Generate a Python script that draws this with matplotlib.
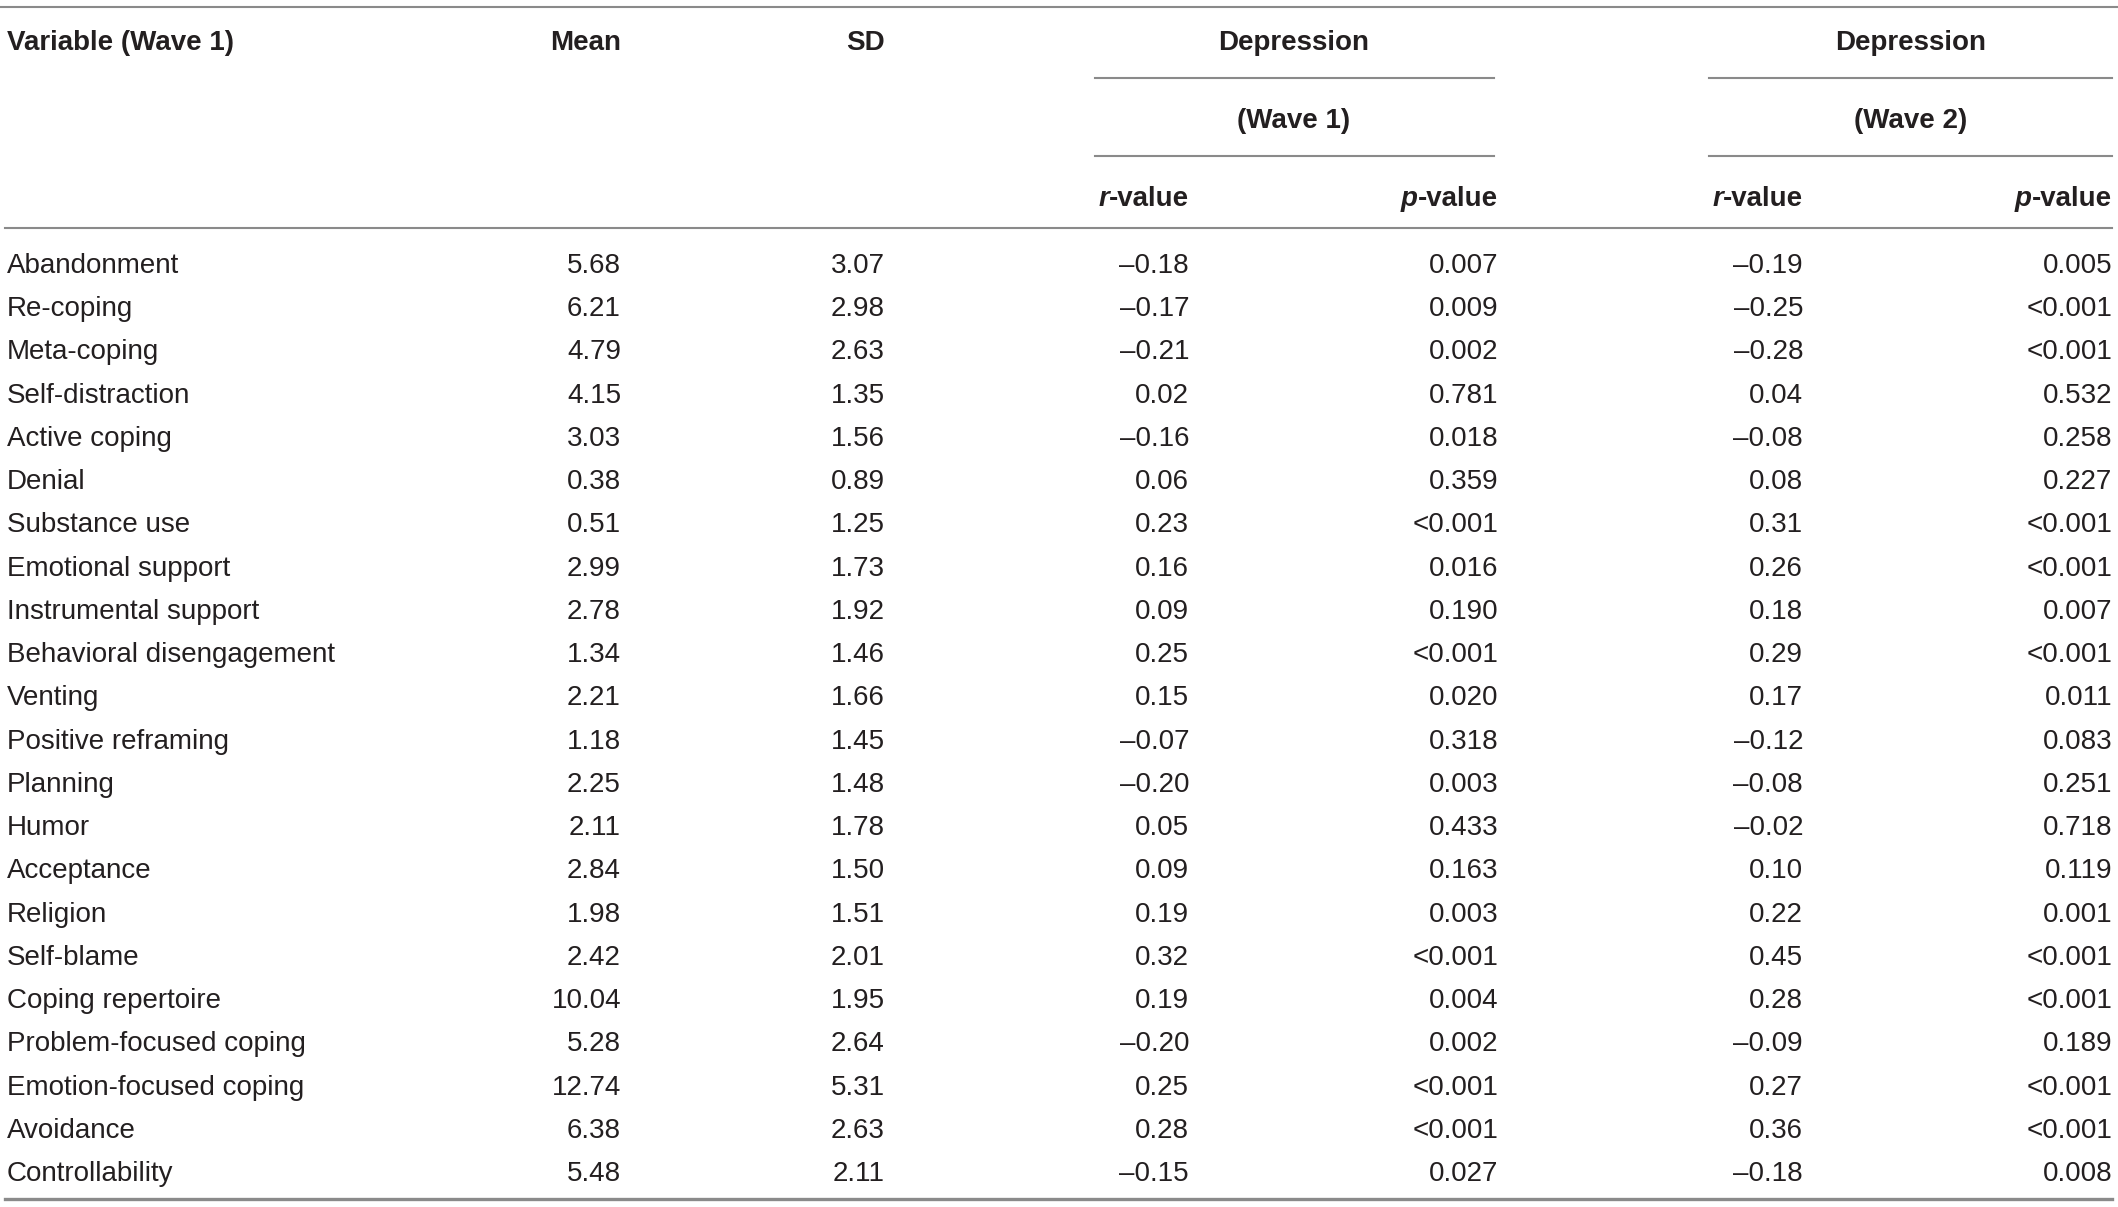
import matplotlib
matplotlib.use("Agg")
import matplotlib.pyplot as plt

variables = ["Abandonment", "Re-coping", "Meta-coping", "Self-distraction", "Active coping",
             "Denial", "Substance use", "Emotional support", "Instrumental support",
             "Behavioral disengagement", "Venting", "Positive reframing", "Planning", "Humor",
             "Acceptance", "Religion", "Self-blame", "Coping repertoire", "Problem-focused coping",
             "Emotion-focused coping", "Avoidance", "Controllability"]
means = [5.68, 6.21, 4.79, 4.15, 3.03, 0.38, 0.51, 2.99, 2.78, 1.34, 2.21, 1.18, 2.25, 2.11,
         2.84, 1.98, 2.42, 10.04, 5.28, 12.74, 6.38, 5.48]
sds = [3.07, 2.98, 2.63, 1.35, 1.56, 0.89, 1.25, 1.73, 1.92, 1.46, 1.66, 1.45, 1.48, 1.78,
       1.50, 1.51, 2.01, 1.95, 2.64, 5.31, 2.63, 2.11]
r_wave1 = [-0.18, -0.17, -0.21, 0.02, -0.16, 0.06, 0.23, 0.16, 0.09, 0.25, 0.15, -0.07, -0.20,
           0.05, 0.09, 0.19, 0.32, 0.19, -0.20, 0.25, 0.28, -0.15]
p_wave1 = ["0.007", "0.009", "0.002", "0.781", "0.018", "0.359", "<0.001", "0.016", "0.190",
           "<0.001", "0.020", "0.318", "0.003", "0.433", "0.163", "0.003", "<0.001", "0.004",
           "0.002", "<0.001", "<0.001", "0.027"]
r_wave2 = [-0.19, -0.25, -0.28, 0.04, -0.08, 0.08, 0.31, 0.26, 0.18, 0.29, 0.17, -0.12, -0.08,
           -0.02, 0.10, 0.22, 0.45, 0.28, -0.09, 0.27, 0.36, -0.18]
p_wave2 = ["0.005", "<0.001", "<0.001", "0.532", "0.258", "0.227", "<0.001", "<0.001", "0.007",
           "<0.001", "0.011", "0.083", "0.251", "0.718", "0.119", "0.001", "<0.001", "<0.001",
           "0.189", "<0.001", "<0.001", "0.008"]

W, H = 2118, 1207
FONT = "Liberation Sans"
INK = "#231f20"
RULE = "#8a8a8a"
FS = 20

fig = plt.figure(figsize=(W / 100, H / 100), dpi=100)
ax = fig.add_axes([0, 0, 1, 1])
ax.set_xlim(0, W)
ax.set_ylim(H, 0)
ax.axis("off")

# column anchors (right edges for numbers)
x_var = 7
x_mean, x_sd = 621, 885
x_r1, x_p1, x_r2, x_p2 = 1189, 1498, 1803, 2112


def fmt_r(v):
    s = f"{abs(v):.2f}"
    return ("\u2013" + s) if v < 0 else s


# rules
ax.plot([0, W], [7, 7], color=RULE, lw=1.5)
ax.plot([5, 2112], [228, 228], color=RULE, lw=1.5)
ax.plot([5, 2112], [1199, 1199], color=RULE, lw=2.4)
for x0, x1 in [(1095, 1494), (1709, 2112)]:
    ax.plot([x0, x1], [78, 78], color=RULE, lw=1.5)
    ax.plot([x0, x1], [156, 156], color=RULE, lw=1.5)

# header
hk = dict(fontsize=FS, fontweight="bold", family=FONT, color=INK, va="center")
ax.text(x_var, 43, "Variable (Wave 1)", ha="left", **hk)
ax.text(x_mean, 43, "Mean", ha="right", **hk)
ax.text(x_sd, 43, "SD", ha="right", **hk)
for cx, wave in [(1294, "(Wave 1)"), (1911, "(Wave 2)")]:
    ax.text(cx, 43, "Depression", ha="center", **hk)
    ax.text(cx, 121, wave, ha="center", **hk)

renderer = fig.canvas.get_renderer()
inv = ax.transData.inverted()
for xr, letter in [(x_r1, "r"), (x_p1, "p"), (x_r2, "r"), (x_p2, "p")]:
    t = ax.text(xr, 199, "-value", ha="right", **hk)
    bb = t.get_window_extent(renderer)
    left = inv.transform((bb.x0, bb.y0))[0]
    ax.text(left, 199, letter, ha="right", style="italic", **hk)

# body
bk = dict(fontsize=FS, family=FONT, color=INK, va="center")
y0, step = 266, 43.24
for i, name in enumerate(variables):
    y = y0 + i * step
    ax.text(x_var, y, name, ha="left", **bk)
    ax.text(x_mean, y, f"{means[i]:.2f}", ha="right", **bk)
    ax.text(x_sd, y, f"{sds[i]:.2f}", ha="right", **bk)
    ax.text(x_r1, y, fmt_r(r_wave1[i]), ha="right", **bk)
    ax.text(x_p1, y, p_wave1[i], ha="right", **bk)
    ax.text(x_r2, y, fmt_r(r_wave2[i]), ha="right", **bk)
    ax.text(x_p2, y, p_wave2[i], ha="right", **bk)

fig.savefig("out.png", facecolor="white")
